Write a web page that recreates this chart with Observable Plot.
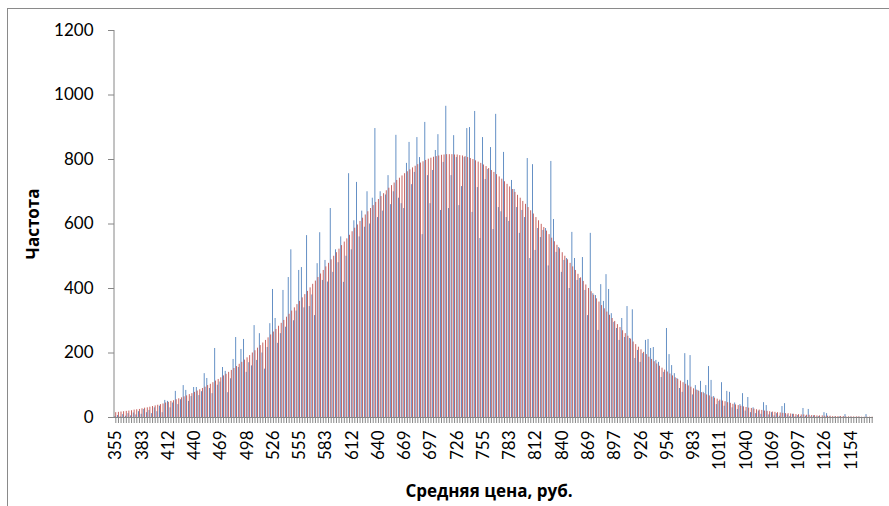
<!DOCTYPE html>
<html><head><meta charset="utf-8">
<script src="https://cdn.jsdelivr.net/npm/d3@7"></script>
<script src="https://cdn.jsdelivr.net/npm/@observablehq/plot@0.6"></script>
<style>
body{margin:0;background:#fff;}
#wrap{position:relative;width:889px;height:506px;overflow:hidden;}
#frame{position:absolute;left:7px;top:8px;width:900px;height:520px;border-top:1px solid #8a8a8a;border-left:1px solid #8a8a8a;}
#chart{position:absolute;left:0;top:0;}
</style></head><body>
<div id="wrap"><div id="frame"></div><div id="chart"></div></div>
<script>
const tickLabels = ["355","383","412","440","469","498","526","555","583","612","640","669","697","726","755","783","812","840","869","897","926","954","983","1011","1040","1069","1097","1126","1154"];
const yTicks = [0,200,400,600,800,1000,1200];
const yTitle = "Частота";
const xTitle = "Средняя цена, руб.";
const observed = [
3,6,2,9,4,12,5,14,8,18,
10,25,15,22,12,30,18,35,15,53,
50,30,45,81,40,55,99,84,50,65,
93,93,68,80,136,121,90,74,214,100,
110,155,143,77,120,180,248,155,211,242,
140,170,160,285,177,260,200,150,217,291,
397,307,230,260,394,280,434,520,300,330,
456,465,340,564,344,380,316,477,573,425,
487,420,648,450,520,480,560,419,500,756,
520,610,729,560,640,590,700,600,680,896,
620,700,640,690,750,660,700,875,680,663,
648,788,853,722,760,868,806,567,915,750,
663,766,828,877,642,791,965,648,750,874,
806,657,716,806,896,899,636,949,713,555,
868,738,769,837,583,940,651,638,822,620,
608,735,707,651,571,642,620,803,493,784,
518,586,558,580,586,470,794,614,512,527,
450,487,493,400,574,493,425,431,496,394,
316,571,384,378,270,412,360,443,397,322,
295,276,239,307,248,344,245,334,183,208,
171,198,239,242,214,217,177,171,124,140,
276,195,161,136,121,90,78,198,115,192,
70,99,84,112,78,99,158,115,65,40,
50,108,35,81,78,30,45,25,40,74,
20,62,15,30,12,20,10,46,37,8,
15,5,12,4,34,43,8,3,10,2,
6,3,28,4,25,2,5,1,3,0,
15,12,2,0,1,0,2,0,9,0,
1,0,0,1,0,0,9,0,0];
const expected = [
15,16,17,18,19,20,21,23,24,25,
27,29,30,32,34,36,38,40,42,45,
47,50,52,55,58,61,64,67,71,74,
78,82,86,90,94,99,103,108,113,118,
123,129,134,140,146,152,158,165,171,178,
185,192,200,207,215,223,231,239,247,256,
265,273,283,292,301,311,320,330,340,350,
360,371,381,391,402,413,423,434,445,456,
467,478,489,500,511,522,533,544,554,565,
576,587,597,608,618,628,638,648,657,667,
676,685,694,703,711,719,727,735,742,749,
756,762,768,774,779,784,789,793,797,801,
804,807,809,811,813,814,815,815,815,814,
814,812,811,809,806,803,800,796,792,788,
783,778,772,766,760,753,746,739,731,723,
715,707,698,689,680,670,661,651,641,631,
620,610,599,589,578,567,556,545,534,523,
511,500,489,478,467,456,444,433,422,411,
400,390,379,368,358,347,337,327,317,307,
298,288,279,269,260,252,243,234,226,218,
210,202,195,187,180,173,166,159,153,147,
141,135,129,123,118,113,108,103,98,94,
89,85,81,77,74,70,67,63,60,57,
54,51,49,46,44,41,39,37,35,33,
31,29,28,26,24,23,22,20,19,18,
17,16,15,14,13,12,12,11,10,9,
9,8,8,7,7,6,6,5,5,5,
4,4,4,3,3,3,3,3,2,2,
2,2,2,2,1,1,1,1,1];

const data = observed.map((v, i) => ({i, observed: v, expected: expected[i]}));
const cats = data.map(d => d.i);
const axisGray = "#868686";

const plot = Plot.plot({
  width: 889, height: 506,
  marginLeft: 114, marginRight: 16, marginTop: 30, marginBottom: 89,
  x: {type: "band", domain: cats, padding: 0, round: false, axis: null},
  y: {domain: [0, 1200], axis: null},
  style: {fontFamily: "Lato, 'Open Sans', sans-serif", fontSize: "17px", color: "#000", background: "transparent"},
  marks: [
    Plot.barY(data, {x: "i", y: "observed", fill: "#4F81BD", insetLeft: 0.45, insetRight: 1.3}),
    Plot.barY(data, {x: "i", y: "expected", fill: "#C0504D", insetLeft: 1.3, insetRight: 0.45}),
    Plot.ruleY([0], {stroke: axisGray}),
    Plot.axisY({ticks: yTicks, tickSize: 6, tickPadding: 15, stroke: axisGray, fill: "#000", label: null, tickFormat: d => String(d), fontSize: 17}),
    Plot.axisX({ticks: cats, tickSize: 6, stroke: axisGray, tickFormat: () => "", label: null}),
    Plot.axisX({ticks: cats.filter(i => i % 10 === 0), tickSize: 0, tickRotate: -90, tickPadding: 13, fill: "#000", tickFormat: i => tickLabels[i / 10], label: null, fontSize: 17}),
    Plot.text([yTitle], {frameAnchor: "left", textAnchor: "middle", rotate: -90, dx: -81, fontWeight: "bold", fontFamily: "'Open Sans', sans-serif", fontSize: 17, fill: "#000"}),
    Plot.text([xTitle], {frameAnchor: "bottom", dy: 79, dx: -5, fontWeight: "bold", fontFamily: "'Open Sans', sans-serif", fontSize: 17, fill: "#000"})
  ]
});
const xs = plot.scale("x"), ys = plot.scale("y");
d3.select(plot).append("line")
  .attr("x1", xs.range[0]).attr("x2", xs.range[0])
  .attr("y1", ys.apply(1200)).attr("y2", ys.apply(0))
  .attr("stroke", axisGray);
document.getElementById("chart").appendChild(plot);
</script>
</body></html>
